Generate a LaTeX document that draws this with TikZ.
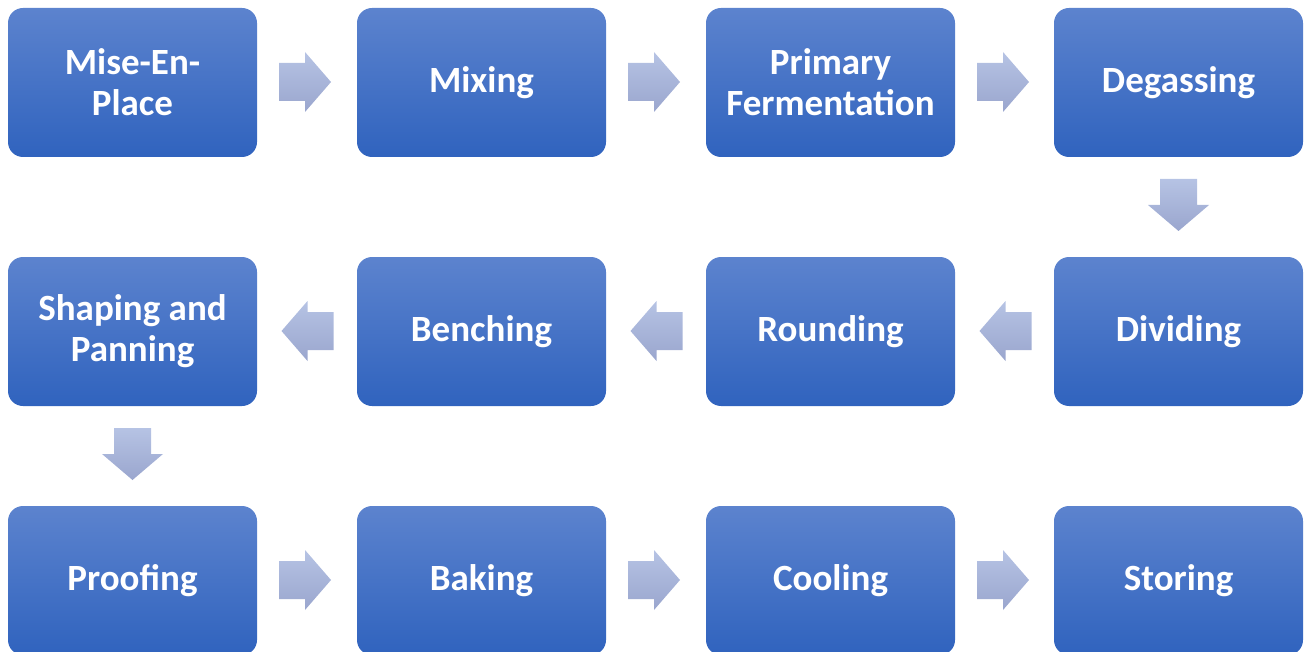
\documentclass[tikz,border=0pt]{standalone}
\usepackage{fontspec}
\setmainfont{Carlito}
\definecolor{boxtop}{HTML}{5C83CE}
\definecolor{boxbot}{HTML}{3063BE}
\definecolor{arrtop}{HTML}{B6C3E4}
\definecolor{arrbot}{HTML}{9AA6CE}
\newcommand\arrright[2]{\coordinate (#1) at (#2);
  \path[blockarrow] ([shift={(-26,-19)}]#1) -- ([shift={(0,-19)}]#1) -- ([shift={(0,-30)}]#1)
    -- ([shift={(26,0)}]#1) -- ([shift={(0,30)}]#1) -- ([shift={(0,19)}]#1) -- ([shift={(-26,19)}]#1) -- cycle;}
\newcommand\arrleft[2]{\coordinate (#1) at (#2);
  \path[blockarrow] ([shift={(26,-19)}]#1) -- ([shift={(0,-19)}]#1) -- ([shift={(0,-30)}]#1)
    -- ([shift={(-26,0)}]#1) -- ([shift={(0,30)}]#1) -- ([shift={(0,19)}]#1) -- ([shift={(26,19)}]#1) -- cycle;}
\newcommand\arrdown[2]{\coordinate (#1) at (#2);
  \path[blockarrow] ([shift={(-18.5,-26)}]#1) -- ([shift={(18.5,-26)}]#1) -- ([shift={(18.5,0)}]#1)
    -- ([shift={(30.5,0)}]#1) -- ([shift={(0,26)}]#1) -- ([shift={(-30.5,0)}]#1) -- ([shift={(-18.5,0)}]#1) -- cycle;}
\begin{document}
\begin{tikzpicture}[x=1pt,y=-1pt,
 stepbox/.style={rounded corners=15pt, minimum width=249pt, minimum height=149pt,
   top color=boxtop, bottom color=boxbot, draw=none, text=white,
   font=\fontsize{37}{41}\selectfont\bfseries, align=center, inner sep=0pt},
 blockarrow/.style={top color=arrtop, bottom color=arrbot, draw=none}]
\useasboundingbox (0,0) rectangle (1305,652);
% row 1
\node[stepbox] (mise) at (132.5,82.5) {Mise-En-\\Place};
\node[stepbox] (mix) at (481.5,82.5) {Mixing};
\node[stepbox] (prim) at (830.5,82.5) {Primary\\Fermentation};
\node[stepbox] (degas) at (1178.5,82.5) {Degassing};
% row 2
\node[stepbox] (shape) at (132.5,331.5) {Shaping and\\Panning};
\node[stepbox] (bench) at (481.5,331.5) {Benching};
\node[stepbox] (round) at (830.5,331.5) {Rounding};
\node[stepbox] (divide) at (1178.5,331.5) {Dividing};
% row 3
\node[stepbox] (proof) at (132.5,580.5) {Proofing};
\node[stepbox] (bake) at (481.5,580.5) {Baking};
\node[stepbox] (cool) at (830.5,580.5) {Cooling};
\node[stepbox] (store) at (1178.5,580.5) {Storing};
% arrows
\arrright{a1}{305,82}
\arrright{a2}{654,82}
\arrright{a3}{1003,82}
\arrdown{a4}{1178.5,205}
\arrleft{a5}{1005.5,331}
\arrleft{a6}{656.5,331}
\arrleft{a7}{307.5,331}
\arrdown{a8}{132.5,454}
\arrright{a9}{305,580}
\arrright{a10}{654,580}
\arrright{a11}{1003,580}
\end{tikzpicture}
\end{document}
